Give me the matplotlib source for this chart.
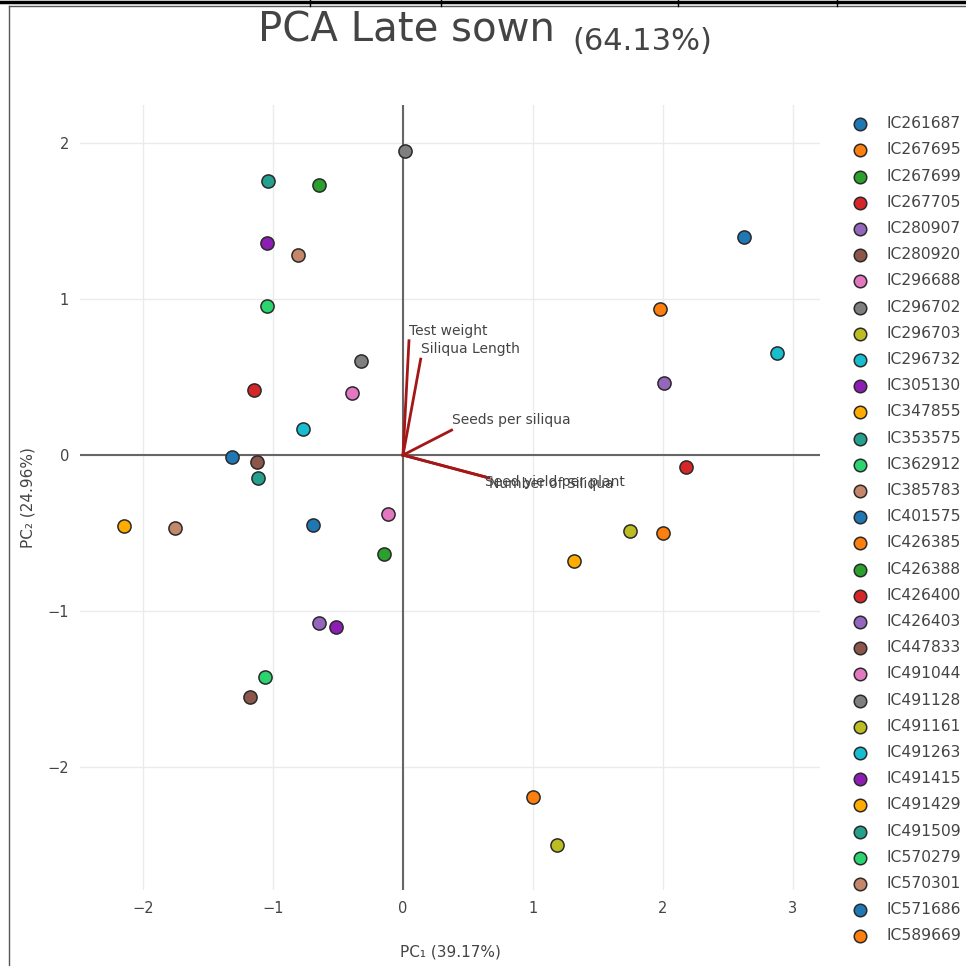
import matplotlib

matplotlib.use("Agg")
import matplotlib.pyplot as plt
from matplotlib.lines import Line2D

plt.rcParams["font.family"] = ["DejaVu Sans"]

# genotype scores on the first two components
genotypes = ["IC261687", "IC267695", "IC267699", "IC267705", "IC280907", "IC280920",
             "IC296688", "IC296702", "IC296703", "IC296732", "IC305130", "IC347855",
             "IC353575", "IC362912", "IC385783", "IC401575", "IC426385", "IC426388",
             "IC426400", "IC426403", "IC447833", "IC491044", "IC491128", "IC491161",
             "IC491263", "IC491415", "IC491429", "IC491509", "IC570279", "IC570301",
             "IC571686", "IC589669"]
pc1 = [2.62, 1.98, -0.65, -1.15, 2.005, -1.123, -0.395, 0.015, 1.748, 2.874, -1.05, 1.313,
       -1.036, -1.05, -0.805, -1.318, 1.997, -0.146, 2.18, -0.646, -1.18, -0.118, -0.32, 1.185,
       -0.767, -0.513, -2.149, -1.115, -1.06, -1.754, -0.69, 1.0]
pc2 = [1.40, 0.934, 1.73, 0.417, 0.463, -0.043, 0.40, 1.95, -0.489, 0.652, 1.36, -0.68,
       1.76, 0.955, 1.28, -0.011, -0.498, -0.633, -0.075, -1.075, -1.553, -0.38, 0.60, -2.50,
       0.169, -1.105, -0.455, -0.145, -1.42, -0.47, -0.449, -2.19]

# trait loadings (arrow tips)
traits = ["Test weight", "Siliqua Length", "Seeds per siliqua", "Seed yield per plant", "Number of Siliqua"]
load1 = [0.046, 0.136, 0.374, 0.63, 0.66]
load2 = [0.733, 0.615, 0.16, -0.139, -0.147]

palette = ["#1f77b4", "#ff7f0e", "#2ca02c", "#d62728", "#9467bd", "#8c564b", "#e377c2",
           "#7f7f7f", "#bcbd22", "#17becf", "#8e1db4", "#ffab00", "#26a08e", "#2bd46e", "#c4876a"]

fig = plt.figure(figsize=(9.66, 9.66), dpi=100)
ax = fig.add_axes([80 / 966, 1 - 890 / 966, 740 / 966, 785 / 966])
ax.set_xlim(-2.485, 3.208)
ax.set_ylim(-2.788, 2.244)
for s in ax.spines.values():
    s.set_visible(False)
ax.set_xticks([-2, -1, 0, 1, 2, 3])
ax.set_yticks([-2, -1, 0, 1, 2])
ax.grid(color="#ebebeb", linewidth=1)
ax.set_axisbelow(True)
ax.tick_params(length=0, labelsize=10.5, labelcolor="#444", pad=8)
ax.axhline(0, color="#666", linewidth=1.5, zorder=1)
ax.axvline(0, color="#666", linewidth=1.5, zorder=1)

handles = []
for i, name in enumerate(genotypes):
    h = ax.scatter(pc1[i], pc2[i], s=90, color=palette[i % len(palette)],
                   edgecolor="#2a2a2a", linewidth=1.1, zorder=3, label=name)
    handles.append(h)

for name, lx, ly in zip(traits, load1, load2):
    ax.plot([0, lx], [0, ly], color="#a51616", linewidth=2, zorder=2)
    dy = 7 if ly > 0 else -4
    ax.annotate(name, (lx, ly), xytext=(0, dy), textcoords="offset points",
                ha="left", va="center", fontsize=10, color="#444", zorder=4)

ax.set_xlabel("PC₁ (39.17%)", fontsize=11, color="#444")
ax.set_ylabel("PC₂ (24.96%)", fontsize=11, color="#444")
ax.xaxis.set_label_coords(0.5, (890 - 952) / 785)
ax.yaxis.set_label_coords((28 - 80) / 740, 0.5)
ax.xaxis.label.set_va("center")
ax.yaxis.label.set_va("center")

fig.legend(handles=handles, loc="upper left", bbox_to_anchor=(846 / 966, 1 - 110 / 966),
           frameon=False, fontsize=11.2, labelspacing=0.72, handlelength=1.0,
           handletextpad=1.2, borderaxespad=0, labelcolor="#444", markerscale=0.95)

fig.text(258 / 966, 1 - 42 / 966, "PCA Late sown", fontsize=29, color="#444", va="baseline")
fig.text(572 / 966, 1 - 50 / 966, "(64.13%)", fontsize=22, color="#444", va="baseline")

# page border left over from the screenshot
fig.add_artist(Line2D([0, 1], [1 - 1.5 / 966] * 2, color="black", linewidth=2.5))
fig.add_artist(Line2D([9 / 966, 1], [1 - 6 / 966] * 2, color="#555", linewidth=1))
fig.add_artist(Line2D([9 / 966] * 2, [0, 1 - 6 / 966], color="#555", linewidth=1))
for xd in [310, 441, 678, 837]:
    fig.add_artist(Line2D([xd / 966] * 2, [1 - 6 / 966, 1], color="black", linewidth=1))

fig.savefig("out.png", dpi=100)
